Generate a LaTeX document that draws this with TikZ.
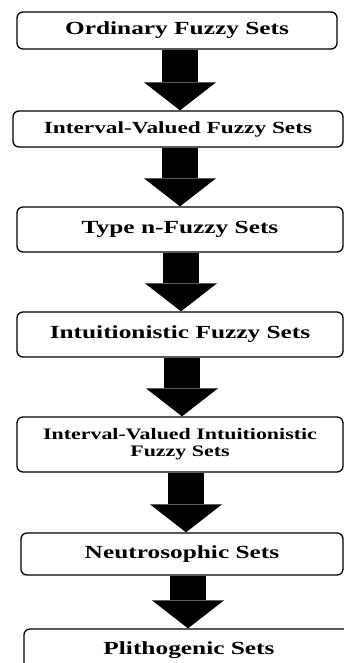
\documentclass[tikz,border=0pt]{standalone}
\usepackage{fontspec}
\setmainfont[FakeStretch=1.37]{Liberation Serif}
\usetikzlibrary{arrows.meta}

\begin{document}
\begin{tikzpicture}[x=1pt, y=-1pt,
  setbox/.style={draw, line width=1.3pt, rounded corners=6pt, inner sep=0pt, align=center,
    font=\bfseries\fontsize{18.5}{20}\selectfont},
  bigarrow/.style={line width=36pt, -{Triangle[width=72pt, length=28pt, line width=0pt]}}]
\useasboundingbox (0,0) rectangle (344,663);
\node [setbox, minimum width=320pt, minimum height=37pt] (ord) at (177,30.5) {Ordinary Fuzzy Sets};
\node [setbox, minimum width=330pt, minimum height=36pt, font=\bfseries\fontsize{17}{19}\selectfont] (ivf) at (178,129) {Interval-Valued Fuzzy Sets};
\node [setbox, minimum width=326pt, minimum height=45pt] (tnf) at (180,229.5) {Type n-Fuzzy Sets};
\node [setbox, minimum width=326pt, minimum height=45pt] (ifs) at (180,334.5) {Intuitionistic Fuzzy Sets};
\node [setbox, minimum width=326pt, minimum height=55pt, font=\bfseries\fontsize{16}{17}\selectfont] (ivi) at (180,444.5) {Interval-Valued Intuitionistic\\Fuzzy Sets};
\node [setbox, minimum width=322pt, minimum height=42pt] (neu) at (182,554) {Neutrosophic Sets};
\node [setbox, minimum width=340pt, minimum height=42pt] (pli) at (194,650) {\hspace*{-10pt}Plithogenic Sets};
% block arrows between the levels
\foreach \a/\b/\dx in {ord/ivf/3, ivf/tnf/2, tnf/ifs/1, ifs/ivi/2, ivi/neu/6, neu/pli/6}
  \draw [bigarrow] ([xshift=\dx]\a.south) -- ([xshift=\dx]\a.south |- \b.north);
\end{tikzpicture}
\end{document}
